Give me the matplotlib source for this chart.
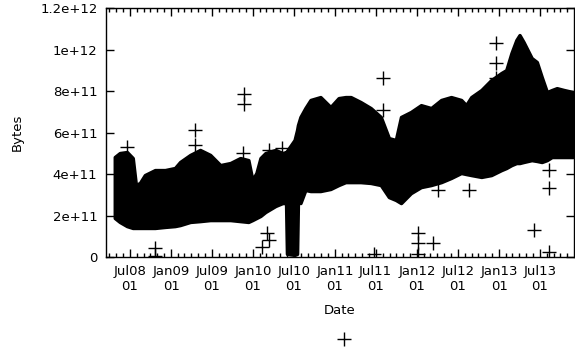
import matplotlib
matplotlib.use("Agg")
import matplotlib.pyplot as plt
import matplotlib.dates as mdates
from matplotlib.lines import Line2D
from matplotlib.ticker import FuncFormatter, MultipleLocator
import numpy as np

# envelope of the dense point cloud (units: 1e11 bytes)
dates = ["2008-04-25", "2008-05-17", "2008-06-18", "2008-07-14", "2008-07-28",
         "2008-08-15", "2008-09-06", "2008-10-21", "2008-12-05", "2009-01-18",
         "2009-02-10", "2009-03-27", "2009-05-10", "2009-06-24", "2009-08-08",
         "2009-09-22", "2009-11-05", "2009-12-11", "2009-12-29", "2010-01-16",
         "2010-02-03", "2010-02-25", "2010-04-11", "2010-05-12", "2010-05-28",
         "2010-06-01", "2010-07-05", "2010-07-16", "2010-07-20", "2010-07-31",
         "2010-08-22", "2010-09-14", "2010-10-28", "2010-12-12", "2011-01-17",
         "2011-02-17", "2011-03-12", "2011-04-25", "2011-06-09", "2011-07-24",
         "2011-08-29", "2011-09-29", "2011-10-22", "2011-12-05", "2012-01-19",
         "2012-03-04", "2012-04-18", "2012-06-01", "2012-07-16", "2012-08-07",
         "2012-08-30", "2012-10-14", "2012-11-27", "2013-01-11", "2013-02-02",
         "2013-02-25", "2013-03-19", "2013-04-02", "2013-04-20", "2013-05-26",
         "2013-06-18", "2013-07-10", "2013-08-02", "2013-08-24", "2013-09-15",
         "2013-10-17", "2013-11-26"]
upper = [4.82, 5.01, 5.06, 4.77, 3.47, 3.57, 3.95, 4.19, 4.19, 4.29,
         4.58, 4.92, 5.16, 4.92, 4.43, 4.53, 4.77, 4.67, 3.71, 4.05,
         4.77, 5.01, 5.16, 5.01, 5.06, 5.11, 5.64, 6.12, 6.36, 6.75,
         7.18, 7.57, 7.71, 7.23, 7.66, 7.71, 7.71, 7.47, 7.18, 6.75,
         5.73, 5.64, 6.75, 6.99, 7.32, 7.18, 7.57, 7.71, 7.57, 7.32,
         7.71, 8.05, 8.53, 8.87, 9.01, 9.83, 10.46, 10.70, 10.36, 9.59,
         9.40, 8.67, 7.95, 8.05, 8.14, 8.05, 7.95]
lower = [1.88, 1.69, 1.49, 1.40, 1.40, 1.40, 1.40, 1.40, 1.45, 1.49,
         1.54, 1.69, 1.73, 1.78, 1.78, 1.78, 1.73, 1.69, 1.78, 1.88,
         1.98, 2.17, 2.46, 2.60, 2.60, 0.15, 0.10, 0.15, 2.75, 2.60,
         3.23, 3.18, 3.18, 3.28, 3.47, 3.61, 3.61, 3.61, 3.57, 3.47,
         2.89, 2.75, 2.60, 3.08, 3.37, 3.47, 3.61, 3.81, 4.05, 4.00,
         3.95, 3.86, 3.95, 4.19, 4.29, 4.43, 4.53, 4.53, 4.58, 4.67,
         4.63, 4.58, 4.67, 4.82, 4.82, 4.82, 4.82]

# isolated points outside the cloud
out_dates = ["2008-06-18", "2008-10-21", "2008-10-21", "2009-04-18", "2009-04-18",
             "2009-11-23", "2009-11-23", "2009-11-19", "2010-02-12", "2010-03-06",
             "2010-03-11", "2010-03-11", "2010-05-12", "2011-08-02", "2011-08-02",
             "2011-06-23", "2012-01-06", "2012-01-06", "2012-01-06", "2012-03-13",
             "2012-08-21", "2012-04-04", "2012-12-20", "2012-12-20", "2012-12-20",
             "2013-08-11", "2013-08-11", "2013-06-04", "2013-08-11"]
out_vals = [5.30, 0.43, 0.05, 6.12, 5.40,
            7.86, 7.37, 5.01, 0.48, 1.16,
            0.82, 5.16, 5.25, 8.63, 7.08,
            0.14, 1.16, 0.67, 0.14, 0.67,
            3.23, 3.23, 10.31, 9.35, 8.63,
            4.19, 3.33, 1.30, 0.24]

t = np.array(dates, dtype="datetime64[D]").astype("O")
up = np.array(upper) * 1e11
lo = np.array(lower) * 1e11
ot = np.array(out_dates, dtype="datetime64[D]").astype("O")
ov = np.array(out_vals) * 1e11

plt.rcParams['font.family'] = ['DejaVu Sans']
plt.rcParams['font.size'] = 9.5

fig = plt.figure(figsize=(5.75, 3.53), dpi=100)
ax = fig.add_axes([0.184, 0.272, 0.814, 0.705])

# the cloud of points is so dense it reads as a solid black band
ax.fill_between(t, lo, up, color='black', lw=2.5, edgecolor='black')
ax.plot(ot, ov, '+', color='black', ms=10, mew=1)

ax.set_ylim(0, 1.2e12)
ax.set_xlim(np.datetime64("2008-03-16").astype("O"), np.datetime64("2013-11-30").astype("O"))
ax.yaxis.set_major_locator(MultipleLocator(2e11))
ax.yaxis.set_major_formatter(FuncFormatter(lambda v, p: '%g' % v))
ax.xaxis.set_major_locator(mdates.MonthLocator(bymonth=[1, 7]))
ax.xaxis.set_minor_locator(mdates.MonthLocator())
ax.xaxis.set_major_formatter(mdates.DateFormatter('%b%y\n%d'))
ax.tick_params(which='both', direction='in', top=True, right=True, width=1, colors='black')
ax.tick_params(which='major', length=6, pad=6)
ax.tick_params(which='minor', length=3)
for s in ax.spines.values():
    s.set_linewidth(1)

ax.set_xlabel("Date", labelpad=8)
ax.set_ylabel("Bytes", labelpad=12)

fig.legend(handles=[Line2D([], [], marker='+', ls='', color='black', ms=10, mew=1)],
           labels=[''], loc='center', bbox_to_anchor=(0.598, 0.037), frameon=False,
           handlelength=1, borderpad=0, handletextpad=0)

fig.savefig("out.png", dpi=100)
